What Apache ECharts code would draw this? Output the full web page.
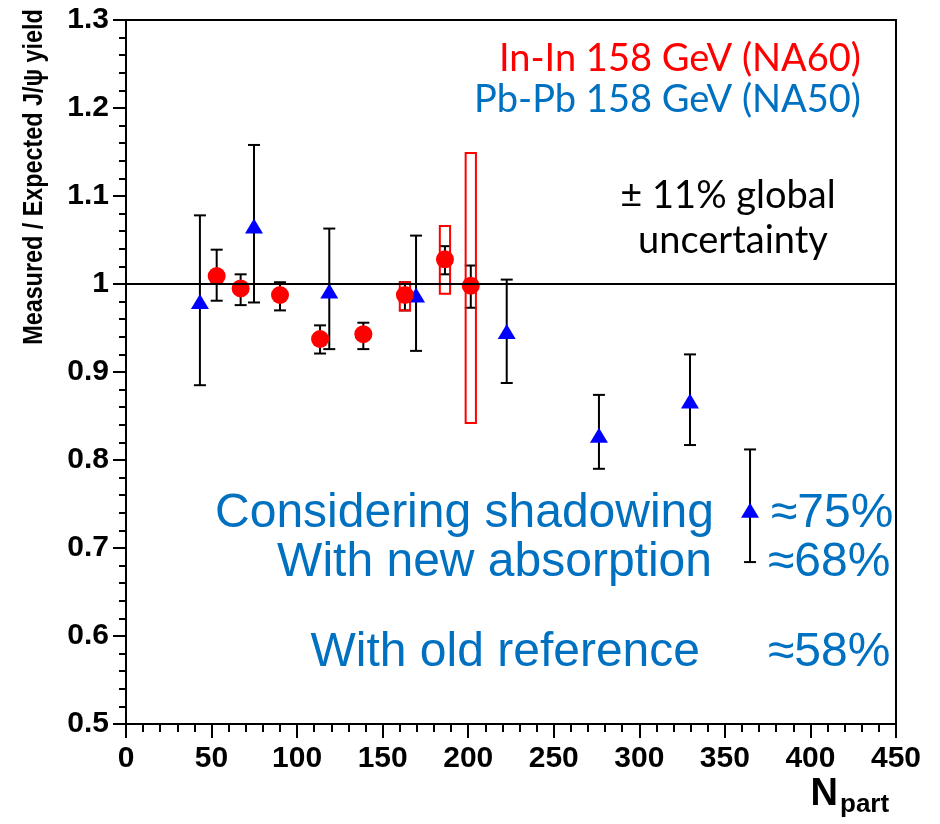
<!DOCTYPE html>
<html>
<head>
<meta charset="utf-8">
<script src="https://cdn.jsdelivr.net/npm/echarts@6/dist/echarts.min.js"></script>
<style>
html,body{margin:0;padding:0;background:#fff;}
#chart{width:940px;height:824px;}
</style>
</head>
<body>
<div id="chart"></div>
<script>
// ---- Data ----
// In-In 158 GeV (NA60)
const inInX  = [53, 67, 90, 113.4, 138.7, 163, 186.4, 201.5];
const inInY  = [1.009, 0.995, 0.9875, 0.9375, 0.943, 0.9875, 1.028, 0.998];
const inInLo = [0.981, 0.976, 0.970, 0.921, 0.926, 0.970, 1.011, 0.973];
const inInHi = [1.039, 1.011, 1.002, 0.953, 0.956, 1.002, 1.043, 1.021];
// In-In systematic boxes
const sysX  = [163, 186.4, 201.5];
const sysLo = [0.970, 0.989, 0.842];
const sysHi = [1.002, 1.066, 1.149];
const sysHalfWidth = 3;
// Pb-Pb 158 GeV (NA50)
const pbX  = [43.2, 74.8, 118.8, 169.5, 222.5, 276.4, 329.6, 364.7];
const pbY  = [0.980, 1.066, 0.992, 0.9875, 0.946, 0.828, 0.867, 0.743];
const pbLo = [0.885, 0.979, 0.926, 0.924, 0.8875, 0.790, 0.817, 0.684];
const pbHi = [1.078, 1.158, 1.063, 1.055, 1.005, 0.874, 0.920, 0.812];
// Axes
const xTicks = [0, 50, 100, 150, 200, 250, 300, 350, 400, 450];
const yTicks = ['0.5', '0.6', '0.7', '0.8', '0.9', '1', '1.1', '1.2', '1.3'];
const refLine = 1;

const chart = echarts.init(document.getElementById('chart'));

function errBar(params, api) {
  const x = api.value(0), lo = api.value(1), hi = api.value(2);
  const a = api.coord([x, hi]);
  const b = api.coord([x, lo]);
  const w = 6;
  const st = {stroke: '#000', lineWidth: 2};
  return {type: 'group', children: [
    {type: 'line', shape: {x1: a[0], y1: a[1], x2: b[0], y2: b[1]}, style: st},
    {type: 'line', shape: {x1: a[0] - w, y1: a[1], x2: a[0] + w, y2: a[1]}, style: st},
    {type: 'line', shape: {x1: b[0] - w, y1: b[1], x2: b[0] + w, y2: b[1]}, style: st}
  ]};
}
function sysBox(params, api) {
  const x = api.value(0), lo = api.value(1), hi = api.value(2);
  const a = api.coord([x - sysHalfWidth, hi]);
  const b = api.coord([x + sysHalfWidth, lo]);
  return {type: 'rect', shape: {x: a[0], y: a[1], width: b[0] - a[0], height: b[1] - a[1]},
    style: {fill: 'none', stroke: '#ff0000', lineWidth: 2}};
}

const blueTxt = '#0070c0';
const bigFont = '"Liberation Sans", Arial, sans-serif';
const calFont = 'Lato, "Open Sans", sans-serif';

function txt(text, x, y, font, fill, align) {
  return {type: 'text', x: x, y: y, z: 10, silent: true,
    style: {text: text, font: font, fill: fill, align: align, verticalAlign: 'top'}};
}

const option = {
  animation: false,
  backgroundColor: '#fff',
  grid: {left: 126, top: 20, right: 44, bottom: 100, show: true, borderColor: '#000', borderWidth: 2, backgroundColor: 'transparent'},
  xAxis: {
    type: 'value', min: xTicks[0], max: xTicks[xTicks.length - 1], interval: 50,
    axisLine: {show: true, lineStyle: {color: '#000', width: 2}},
    axisTick: {show: true, inside: false, length: 14, lineStyle: {color: '#000', width: 2}},
    minorTick: {show: true, splitNumber: 5, length: 8, lineStyle: {color: '#000', width: 2}},
    splitLine: {show: false},
    axisLabel: {margin: 20, fontSize: 30, fontWeight: 'bold', fontFamily: bigFont, color: '#000'}
  },
  yAxis: {
    type: 'value', min: 0.5, max: 1.3, interval: 0.1,
    axisLine: {show: true, lineStyle: {color: '#000', width: 2}},
    axisTick: {show: true, inside: false, length: 13, lineStyle: {color: '#000', width: 2}},
    minorTick: {show: true, splitNumber: 5, length: 7, lineStyle: {color: '#000', width: 2}},
    splitLine: {show: false},
    axisLabel: {margin: 17, fontSize: 30, fontWeight: 'bold', fontFamily: bigFont, color: '#000',
      formatter: v => { const i = Math.round((v - 0.5) / 0.1); return yTicks[i] !== undefined ? yTicks[i] : ''; }}
  },
  series: [
    {
      type: 'line', data: [], silent: true, z: 1,
      markLine: {silent: true, symbol: 'none', label: {show: false},
        lineStyle: {color: '#000', width: 2, type: 'solid'},
        data: [{yAxis: refLine}]}
    },
    {
      type: 'custom', renderItem: errBar, z: 2, silent: true,
      data: pbX.map((x, i) => [x, pbLo[i], pbHi[i]])
    },
    {
      type: 'custom', renderItem: errBar, z: 2, silent: true,
      data: inInX.map((x, i) => [x, inInLo[i], inInHi[i]])
    },
    {
      type: 'custom', renderItem: sysBox, z: 3, silent: true,
      data: sysX.map((x, i) => [x, sysLo[i], sysHi[i]])
    },
    {
      name: 'Pb-Pb 158 GeV (NA50)', type: 'scatter', symbol: 'triangle', symbolSize: [18, 15], z: 4,
      itemStyle: {color: '#0000ff', opacity: 1},
      data: pbX.map((x, i) => [x, pbY[i]])
    },
    {
      name: 'In-In 158 GeV (NA60)', type: 'scatter', symbol: 'circle', symbolSize: 18, z: 4,
      itemStyle: {color: '#ff0000', opacity: 1},
      data: inInX.map((x, i) => [x, inInY[i]])
    }
  ],
  graphic: [
    {type: 'text', x: 35, y: 177, rotation: Math.PI / 2, scaleX: 0.865, z: 10, silent: true,
      style: {text: 'Measured / Expected J/\u03c8 yield', font: 'bold 27px ' + bigFont, fill: '#000', align: 'center', verticalAlign: 'middle'}},
    txt('N', 838, 776, 'bold 38px ' + bigFont, '#000', 'right'),
    txt('part', 840, 792, 'bold 26px ' + bigFont, '#000', 'left'),
    txt('In-In 158 GeV (NA60)', 861, 39.5, '38px ' + calFont, '#ff0000', 'right'),
    txt('Pb-Pb 158 GeV (NA50)', 861, 80.5, '38px ' + calFont, blueTxt, 'right'),
    txt('\u00b1 11% global', 728, 176.5, '38px ' + calFont, '#000', 'center'),
    txt('uncertainty', 733, 221.5, '38px ' + calFont, '#000', 'center'),
    txt('Considering shadowing', 714, 490, '48px ' + bigFont, blueTxt, 'right'),
    txt('\u224875%', 771, 490, '48px ' + bigFont, blueTxt, 'left'),
    txt('With new absorption', 712, 539, '48px ' + bigFont, blueTxt, 'right'),
    txt('\u224868%', 768, 539, '48px ' + bigFont, blueTxt, 'left'),
    txt('With old reference', 700, 629, '48px ' + bigFont, blueTxt, 'right'),
    txt('\u224858%', 768, 629, '48px ' + bigFont, blueTxt, 'left')
  ]
};
chart.setOption(option);
</script>
</body>
</html>
